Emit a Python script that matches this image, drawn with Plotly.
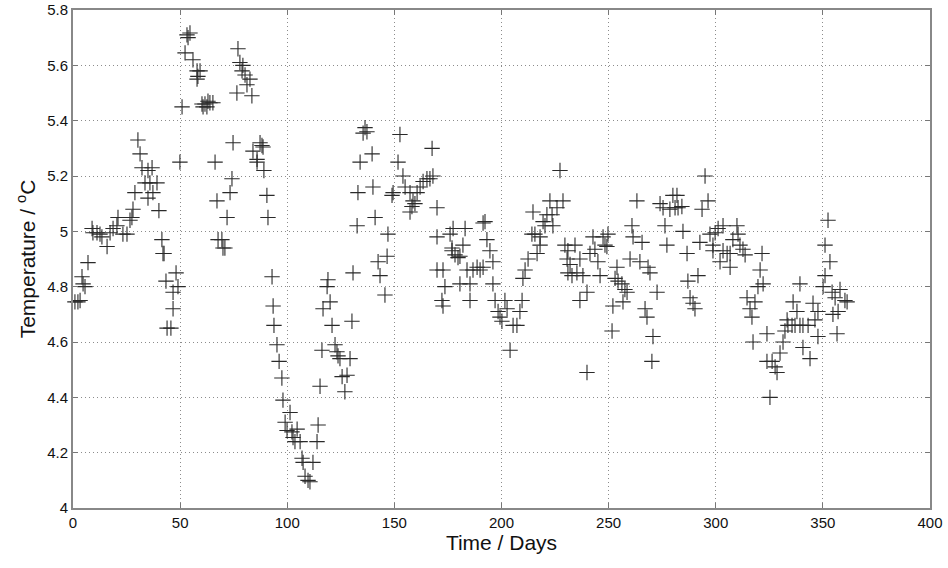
import plotly.graph_objects as go

# time (days) and temperature (deg C)
days = [
    0.9, 2.3, 3.3, 4.2, 4.7, 5.6, 7.0, 8.9, 9.3, 11.2, 12.6, 13.5, 15.9, 17.3, 18.7, 20.5,
    21.0, 23.3, 25.2, 26.6, 27.5, 28.0, 28.9, 30.3, 31.3, 32.2, 33.6, 35.0, 35.0, 35.9,
    36.9, 37.3, 39.2, 40.1, 41.5, 42.0, 42.5, 43.4, 43.9, 45.7, 46.7, 46.7, 48.1, 49.0,
    49.9, 50.9, 52.3, 53.2, 53.7, 54.6, 56.0, 57.9, 57.9, 58.3, 59.3, 60.2, 60.7, 61.6,
    62.5, 63.0, 63.9, 65.3, 66.3, 67.2, 67.7, 69.5, 70.0, 70.9, 71.9, 73.3, 74.2, 74.7,
    76.5, 77.0, 77.9, 78.9, 79.3, 80.3, 81.2, 82.6, 83.5, 84.0, 85.9, 85.9, 87.3, 88.2,
    88.7, 89.1, 90.5, 91.0,
    92.9, 93.4, 93.8, 95.2, 96.2, 97.5, 98.0, 99.0, 99.9, 101.3, 102.2, 102.7, 103.6,
    104.6, 106.0, 106.9, 107.4, 108.3, 109.7, 110.6, 112.0, 113.9, 114.4, 115.3, 116.2,
    116.7, 118.6, 119.0, 120.0, 120.9, 122.3, 123.2, 123.7, 124.6, 125.6, 126.9, 127.9,
    129.3, 130.2, 130.7,
    132.6, 133.0, 134.0, 135.4, 136.3, 137.2, 139.6, 140.0, 141.0, 142.4, 143.3, 145.6,
    146.6, 147.0, 148.9, 149.4, 151.7, 152.6, 154.0, 155.0, 157.3, 157.3, 158.2, 158.7,
    159.6, 160.6, 162.0, 163.4, 165.2, 166.6, 167.6, 168.0, 169.9,
    169.9, 169.9, 172.2, 172.7, 172.7, 173.6, 176.0, 176.9, 176.9, 177.4, 178.3, 179.7,
    180.6, 180.6, 182.0, 183.0, 183.9, 185.3, 185.3, 186.7, 188.6, 190.0, 191.4, 191.4,
    192.3, 193.2, 194.6, 196.0, 196.0, 197.0, 198.4, 199.3, 200.2, 201.6, 202.6, 204.0,
    205.4, 207.2, 208.6, 209.6, 210.0, 211.0, 212.4, 214.2, 214.7, 215.6, 216.6, 218.0,
    218.0,
    219.4, 220.3, 221.2, 222.6, 223.6, 224.0, 225.9, 227.3, 228.7, 229.6, 230.6, 231.0,
    231.0, 232.0, 232.9, 234.3, 235.2, 236.6, 236.6, 238.0, 239.9, 239.9, 241.3, 242.7,
    243.6, 245.0, 246.0, 247.4, 248.3, 249.2, 249.7, 251.6, 252.0, 253.0, 253.9, 254.4,
    256.2, 256.7, 257.6, 258.6, 260.0, 260.9, 261.4, 263.2,
    264.6, 265.6, 267.0, 267.9, 268.4, 269.3, 270.2, 270.7, 272.6, 274.0, 275.4, 276.3,
    277.2, 278.6, 280.0, 281.0, 281.9, 282.4, 284.2, 284.7, 286.6, 287.0, 288.0, 289.4,
    290.3, 291.7, 292.6, 293.6, 295.0, 296.4,
    297.3, 298.7, 298.7, 299.7, 301.1, 302.0, 303.4, 303.4, 305.3, 306.7, 306.7, 308.0,
    309.9, 310.4, 311.3, 312.7, 313.7, 314.6, 316.0, 316.9, 317.4, 318.3, 319.7, 320.7,
    321.6, 322.1, 323.9, 323.9, 325.3, 326.3, 327.7, 328.6, 330.0, 331.4, 332.3, 333.3,
    333.7, 335.6, 336.1, 337.0, 337.9, 339.3, 339.3, 340.7, 340.7, 343.1, 344.0, 345.4,
    346.3, 347.7, 347.7, 350.1, 351.0, 351.0, 352.4, 353.3, 354.3, 354.7, 355.7, 356.6,
    357.1, 358.0, 360.3, 361.3,
]

temps = [
    4.745, 4.745, 4.75, 4.836, 4.81, 4.80, 4.887, 5.01, 4.995, 4.995, 4.99, 4.98, 4.945, 4.995, 5.01, 5.02,
    5.05, 4.99, 4.99, 5.04, 5.05, 5.08, 5.14, 5.33, 5.28, 5.23, 5.175, 5.22, 5.12, 5.175,
    5.23, 5.14, 5.175, 5.075, 4.97, 4.92, 4.92, 4.82, 4.65, 4.65, 4.78, 4.72, 4.85, 4.80,
    5.25, 5.45, 5.645, 5.71, 5.70, 5.717, 5.62, 5.58, 5.55, 5.56, 5.58, 5.46, 5.45, 5.46,
    5.45, 5.47, 5.465, 5.465, 5.25, 5.11, 4.97, 4.97, 4.94, 4.94, 5.05, 5.14, 5.19, 5.32,
    5.50, 5.66, 5.61, 5.58, 5.60, 5.565, 5.53, 5.55, 5.49, 5.29, 5.25, 5.26, 5.32, 5.31,
    5.305, 5.22, 5.13, 5.05,
    4.836, 4.73, 4.66, 4.59, 4.53, 4.47, 4.39, 4.31, 4.28, 4.345, 4.275, 4.255, 4.24,
    4.285, 4.24, 4.18, 4.165, 4.115, 4.10, 4.095, 4.165, 4.24, 4.30, 4.44, 4.57,
    4.72, 4.80, 4.825, 4.745, 4.66, 4.59, 4.565, 4.55, 4.54, 4.475, 4.42, 4.48,
    4.54, 4.675, 4.85,
    5.02, 5.14, 5.25, 5.355, 5.375, 5.36, 5.28, 5.16, 5.05, 4.89, 4.84, 4.77,
    4.91, 4.99, 5.13, 5.14, 5.25, 5.35, 5.20, 5.16, 5.14, 5.07, 5.09, 5.11,
    5.10, 5.14, 5.16, 5.18, 5.19, 5.19, 5.30, 5.20, 5.085,
    4.98, 4.86, 4.75, 4.86, 4.73, 4.80, 4.99, 4.94, 4.93, 5.01, 4.915, 4.905,
    4.91, 4.81, 4.95, 5.01, 4.86, 4.81, 4.75, 4.86, 4.87, 4.86, 4.87, 5.03,
    5.035, 4.97, 4.93, 4.89, 4.81, 4.75, 4.71, 4.69, 4.675, 4.75, 4.72, 4.57,
    4.66, 4.66, 4.71, 4.75, 4.83, 4.86, 4.90, 4.99, 5.07, 4.99, 4.92, 4.95,
    4.98,
    5.035, 5.02, 5.06, 5.11, 5.06, 5.02, 5.085, 5.22, 5.11, 4.95, 4.90, 4.93,
    4.85, 4.88, 4.84, 4.95, 4.85, 4.90, 4.75, 4.84, 4.78, 4.49, 4.92, 4.98,
    4.935, 4.89, 4.84, 4.98, 4.95, 4.945, 4.99, 4.64, 4.73, 4.83, 4.87, 4.82,
    4.81, 4.745, 4.79, 4.78, 4.90, 5.02, 4.98, 5.11,
    4.89, 4.96, 4.72, 4.69, 4.87, 4.85, 4.53, 4.62, 4.78, 5.10, 5.085, 5.02,
    4.95, 5.08, 5.13, 5.085, 5.13, 5.085, 5.09, 5.00, 4.92, 4.82, 4.76, 4.74,
    4.72, 4.84, 4.96, 5.08, 5.20, 5.11,
    4.99, 4.95, 4.93, 4.995, 5.01, 4.89, 5.02, 4.93, 4.92, 4.92, 4.87, 4.97,
    5.02, 4.99, 4.95, 4.935, 4.915, 4.76, 4.72, 4.69, 4.60, 4.745, 4.80, 4.86,
    4.92, 4.81, 4.63, 4.53, 4.40, 4.53, 4.51, 4.49, 4.56, 4.60, 4.64, 4.68,
    4.66, 4.66, 4.745, 4.66, 4.71, 4.66, 4.81, 4.66, 4.58, 4.66, 4.54, 4.74,
    4.68, 4.71, 4.62, 4.80, 4.84, 4.95, 5.04, 4.89, 4.78, 4.70, 4.76, 4.63,
    4.71, 4.79, 4.75, 4.745,
]

x_ticks = [0, 50, 100, 150, 200, 250, 300, 350, 400]
y_ticks = [4, 4.2, 4.4, 4.6, 4.8, 5, 5.2, 5.4, 5.6, 5.8]

font = "Liberation Sans, Arial, Helvetica, sans-serif"

trace = go.Scatter(
    x=days, y=temps, mode="markers",
    marker=dict(symbol="cross-thin", size=11,
                line=dict(color="#2a2a2a", width=1.1)),
    showlegend=False,
    cliponaxis=False,
)

axis_style = dict(
    showline=True, linecolor="#888888", linewidth=2, mirror="ticks",
    ticks="inside", ticklen=5, tickcolor="#777777", tickwidth=1,
    showgrid=True, gridcolor="#8c8c8c", griddash="1px,3px", gridwidth=1,
    zeroline=False, automargin=False,
    tickfont=dict(family=font, size=15, color="#111111"),
)

layout = go.Layout(
    width=948, height=568,
    margin=dict(l=73, r=18, t=10, b=60),
    plot_bgcolor="white", paper_bgcolor="white",
    xaxis=dict(range=[0, 400], tickvals=x_ticks,
               title=dict(text="Time / Days", font=dict(family=font, size=21, color="#111111"),
                          standoff=2),
               **axis_style),
    yaxis=dict(range=[4, 5.8], tickvals=y_ticks,
               title=dict(text="Temperature / <sup>o</sup>C",
                          font=dict(family=font, size=21, color="#111111"), standoff=6),
               **axis_style),
)

fig = go.Figure(data=[trace], layout=layout)
# drop the default page margin so the figure sits at the window's corner
fig.write_html("out.html",
               config={"displayModeBar": False},
               post_script="document.body.style.margin='0';document.body.style.overflow='hidden';")
